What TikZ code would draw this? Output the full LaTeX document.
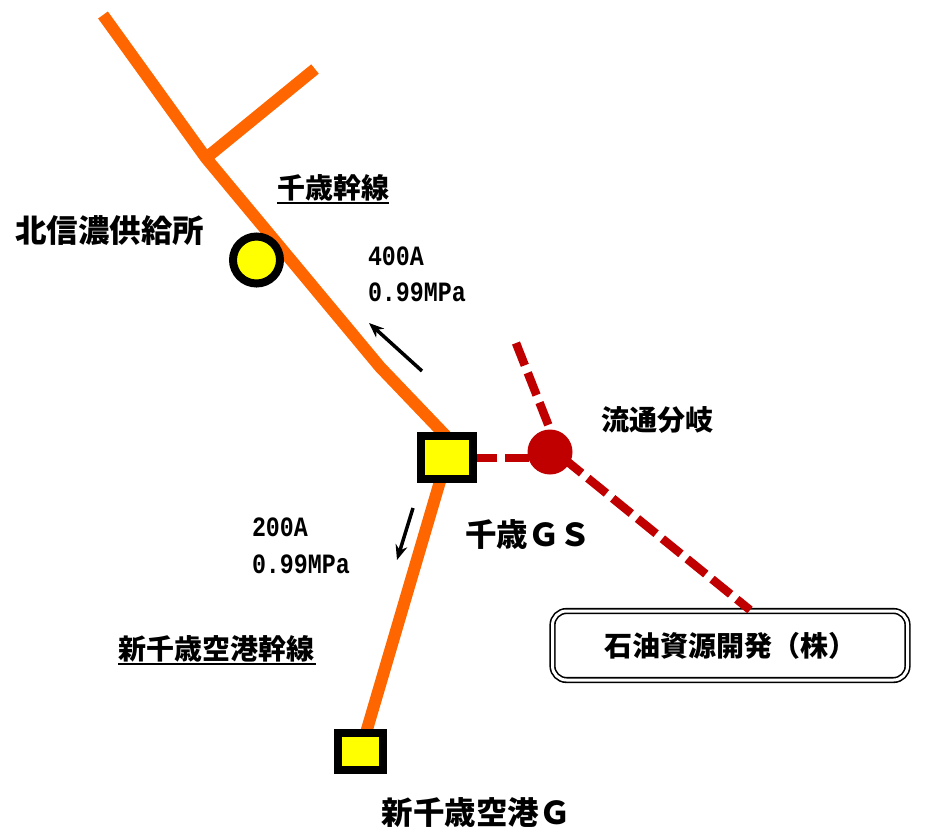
\documentclass[tikz,border=0pt]{standalone}
\usepackage{fontspec}
\usetikzlibrary{arrows.meta,backgrounds}
\newfontfamily\cjk{Noto Sans CJK JP}
\newfontfamily\halfw{Liberation Mono}
\definecolor{gasorange}{RGB}{255,102,0}
\definecolor{gasred}{RGB}{192,0,0}
\definecolor{gasyellow}{RGB}{255,255,0}
\tikzset{
  every node/.style={inner sep=0pt,outer sep=0pt},
  big/.style={font=\cjk\bfseries\fontsize{31.5}{31.5}\selectfont},
  mid/.style={font=\cjk\bfseries\fontsize{28}{28}\selectfont},
  val/.style={font=\halfw\bfseries\fontsize{23.3}{23.3}\selectfont,anchor=west,yscale=1.2,transform shape},
  ulline/.style={draw=black,line width=2pt},
  trunk/.style={draw=gasorange,line width=12pt},
  branch/.style={draw=gasred,line width=8.5pt,dash pattern=on 24pt off 8pt},
  station/.style={draw=black,fill=gasyellow,line width=8pt,minimum width=#1},
  flow/.style={draw=black,line width=3.5pt,-{Stealth[length=15pt,width=12pt]}}
}
\begin{document}
\begin{tikzpicture}[x=1pt,y=-1pt]
\useasboundingbox (0,0) rectangle (926,833);
% free ends and bends
\coordinate (nw) at (103,15);
\coordinate (fork) at (206,158);
\coordinate (ne) at (315,69);
\coordinate (bend) at (380,367);
\coordinate (joinT) at (446,436);
\coordinate (redN) at (516,343);
\coordinate (redNend) at (559,452);
\coordinate (redW) at (477,458);
\coordinate (redWend) at (540,458);
\coordinate (redSE) at (563,458);
\coordinate (redE) at (750,610);
\coordinate (a1s) at (422,371);
\coordinate (a1e) at (369,323);
\coordinate (a2s) at (413,508);
\coordinate (a2e) at (397,560);
% stations
\node[station=52pt,minimum height=43pt] (gs) at (447,457.5) {};
\node[station=45pt,minimum height=37pt] (air) at (360.5,751.5) {};
\node[circle,draw=black,fill=gasyellow,line width=8pt,minimum size=47pt] (north) at (256.5,260) {};
\node[draw=black,line width=1.6pt,double=white,double distance=3pt,rounded corners=14pt,
  minimum width=355pt,minimum height=69pt,font=\cjk\bfseries\fontsize{28}{28}\selectfont] (sek) at (730,645.5) {石油資源開発（株）};
% connectors
\begin{pgfonlayer}{background}
\draw[trunk] (nw) -- (fork) -- (bend) -- (joinT) -- (gs.center);
\draw[trunk] (fork) -- (ne);
\draw[trunk] (gs.center) -- (air.center);
\end{pgfonlayer}
\draw[branch,dash phase=4pt] (redW) -- (redWend);
\draw[branch] (redN) -- (redNend);
\draw[branch] (redSE) -- (redE);
\node[circle,fill=gasred,minimum size=45pt] (hub) at (550,452) {};
\draw[flow] (a1s) -- (a1e);
\draw[flow] (a2s) -- (a2e);
% labels
\node[big] (l1) at (110,231) {北信濃供給所};
\node[mid] (l2) at (333,188) {千歳幹線};
\draw[ulline] (277,203) -- (388.5,203);
\node[val] (l3) at (368,256) {400A};
\node[val] (l4) at (368,292) {0.99MPa};
\node[mid] (l5) at (657,420) {流通分岐};
\node[big] (l6) at (528,535) {千歳ＧＳ};
\node[val] (l7) at (252,527) {200A};
\node[val] (l8) at (252,564) {0.99MPa};
\node[mid] (l9) at (216.5,649) {新千歳空港幹線};
\draw[ulline] (118,664) -- (315.5,664);
\node[big] (l10) at (476,813) {新千歳空港Ｇ};
\end{tikzpicture}
\end{document}
